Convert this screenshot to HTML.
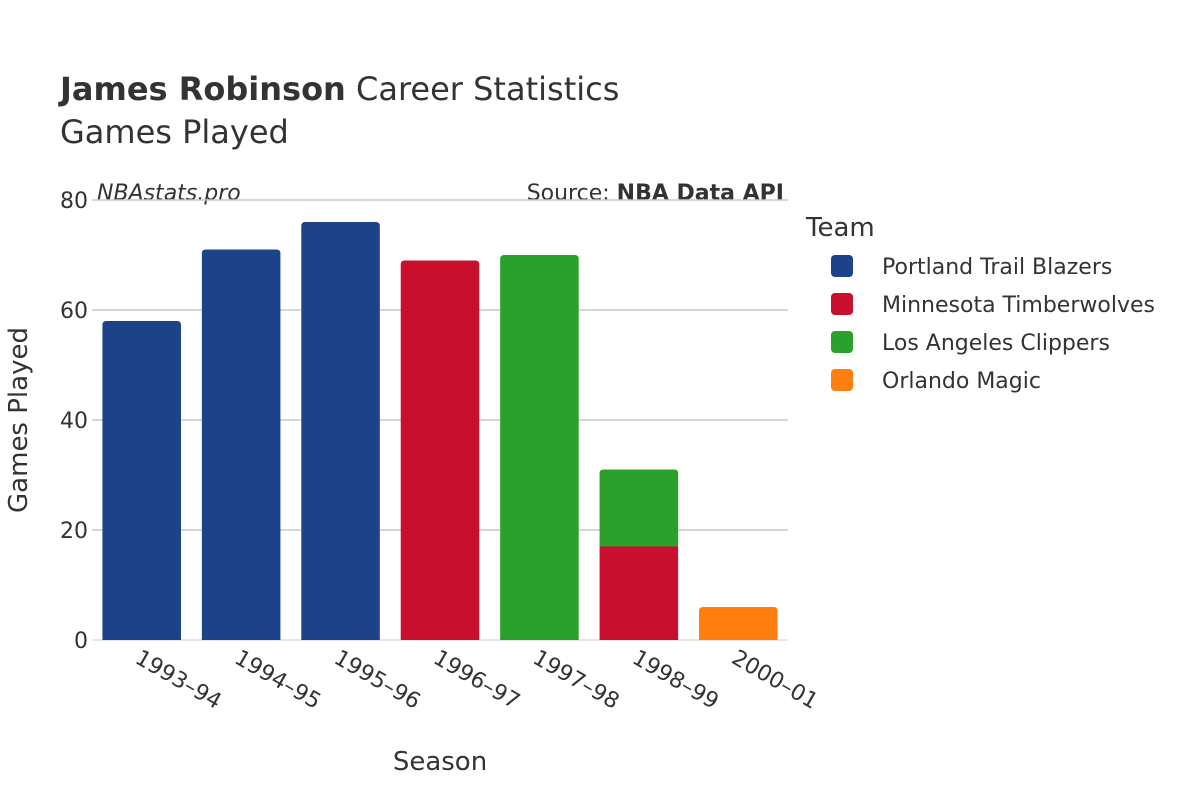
<!DOCTYPE html>
<html><head><meta charset="utf-8"><style>
body{margin:0;background:#fff;}
svg text{font-family:"DejaVu Sans","Liberation Sans",sans-serif;fill:#333;}
</style></head><body>
<svg id="chart" width="1200" height="800" viewBox="0 0 1200 800">
<rect width="1200" height="800" fill="#fff"/>
<text x="60" y="100" font-size="32"><tspan font-weight="bold">James Robinson</tspan> Career Statistics</text>
<text x="60" y="143" font-size="32">Games Played</text>
<text x="97" y="200" font-size="22" font-style="italic">NBAstats.pro</text>
<text x="784" y="200" font-size="22" text-anchor="end">Source: <tspan font-weight="bold">NBA Data API</tspan></text>
<g id="grid"></g>
<g id="bars"></g>
<g id="yticks"></g>
<g id="xticks"></g>
<text x="440" y="770" font-size="26" text-anchor="middle">Season</text>
<text transform="translate(27,420) rotate(-90)" font-size="26" text-anchor="middle">Games Played</text>
<g id="legend">
<text x="806" y="236" font-size="26">Team</text>
</g>
</svg>
<script>
const seasons=["1993–94","1994–95","1995–96","1996–97","1997–98","1998–99","2000–01"];
const teams=["Portland Trail Blazers","Minnesota Timberwolves","Los Angeles Clippers","Orlando Magic"];
const colors=["#1d428a","#c8102e","#2ca02c","#ff7f0e"];
const porValues=[58,71,76,0,0,0,0];
const minValues=[0,0,0,69,0,17,0];
const lacValues=[0,0,0,0,70,14,0];
const orlValues=[0,0,0,0,0,0,6];
const yTicks=[0,20,40,60,80];
const series=[porValues,minValues,lacValues,orlValues];
const NS="http://www.w3.org/2000/svg";
const x0=92,x1=788,y0=640,yTop=200,yMax=80;
const band=(x1-x0)/seasons.length, bw=band*0.79;
const y=v=>y0-(v/yMax)*(y0-yTop);
const xc=i=>x0+band*(i+0.5);
function mk(t,a,p){const e=document.createElementNS(NS,t);for(const k in a)e.setAttribute(k,a[k]);p.appendChild(e);return e;}
const grid=document.getElementById('grid');
yTicks.forEach(v=>{
  const l=mk('line',{x1:x0,x2:x1,y1:y(v),y2:y(v),stroke:v===0?'#e6e6e6':'#c8c8c8','stroke-width':v===0?2:1.5},grid);
  
  
  const t=mk('text',{x:88,y:y(v)+8,'font-size':22,'text-anchor':'end'},document.getElementById('yticks'));
  t.textContent=v;
  
  
});
const bars=document.getElementById('bars');
seasons.forEach((s,i)=>{
  let base=0;
  const segs=[];
  series.forEach((arr,k)=>{if(arr[i]>0){segs.push([k,base,base+arr[i]]);base+=arr[i];}});
  segs.forEach((sg,j)=>{
    const [k,b,t]=sg;const top=j===segs.length-1;
    const X=xc(i)-bw/2,Y1=y(t),Y0=y(b),r=top?4:0;
    const d=`M${X},${Y0}L${X},${Y1+r}Q${X},${Y1} ${X+r},${Y1}L${X+bw-r},${Y1}Q${X+bw},${Y1} ${X+bw},${Y1+r}L${X+bw},${Y0}Z`;
    const p=mk('path',{d:d,fill:colors[k]},bars);
    
    
  });
  const tx=mk('text',{'font-size':22,transform:`translate(${xc(i)-8},${662}) rotate(30)`},document.getElementById('xticks'));
  tx.textContent=s;
  
  
});
const lg=document.getElementById('legend');
teams.forEach((t,k)=>{
  const g=mk('g',{},lg);
  
  
  const cy=266+38*k;
  mk('rect',{x:831,y:cy-11,width:22,height:22,rx:4,fill:colors[k]},g);
  const tt=mk('text',{x:882,y:cy+8,'font-size':22},g);tt.textContent=t;
});
</script>
</body></html>
